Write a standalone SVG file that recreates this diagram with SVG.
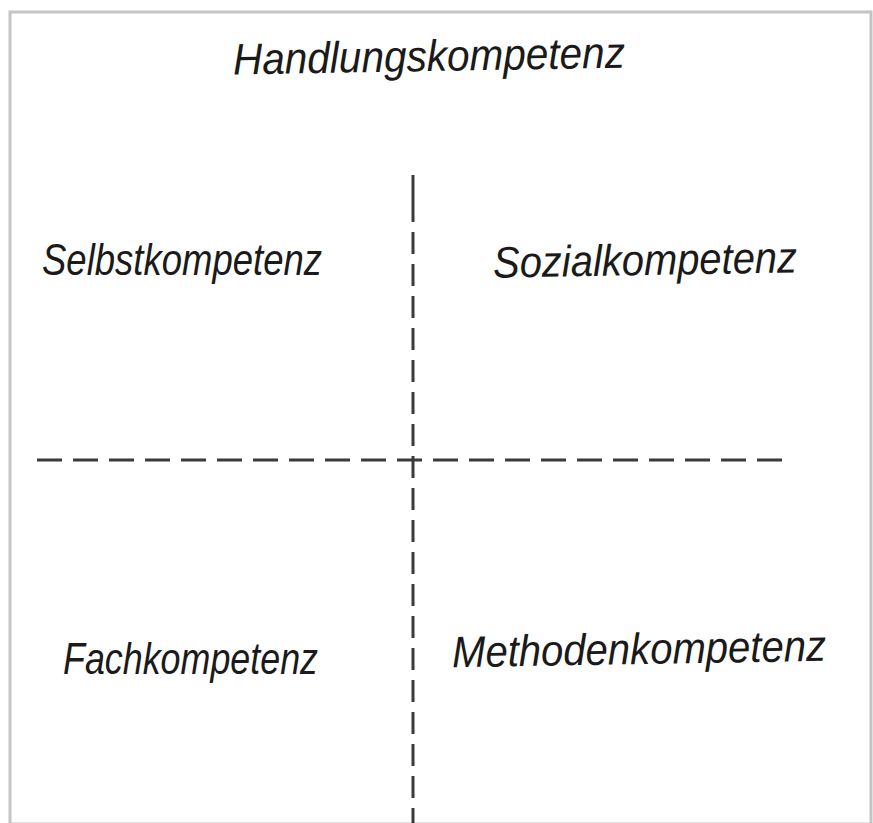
<svg xmlns="http://www.w3.org/2000/svg" width="873" height="823" viewBox="0 0 873 823">
<style>
.lbl{font-family:"Liberation Sans","DejaVu Sans",sans-serif;font-style:italic;font-size:44px;fill:#1a1a1a;}
.dash{stroke:#3a3a3a;stroke-width:3;fill:none;}
</style>
<rect x="0" y="0" width="873" height="823" fill="#ffffff"/>
<rect x="10" y="12" width="861" height="812" fill="none" stroke="#c4c4c4" stroke-width="3"/>
<g id="connectors">
<line class="dash" x1="413" y1="175" x2="413" y2="222"/>
<line class="dash" x1="413" y1="232" x2="413" y2="823" stroke-dasharray="22,10"/>
<line class="dash" x1="37" y1="460" x2="785" y2="460" stroke-dasharray="25,11"/>
</g>
<g id="handlung"><text class="lbl" x="233" y="71" textLength="392" lengthAdjust="spacingAndGlyphs" transform="rotate(-1 430 60)">Handlungskompetenz</text></g>
<g id="selbst"><text class="lbl" x="42" y="275" textLength="280" lengthAdjust="spacingAndGlyphs">Selbstkompetenz</text></g>
<g id="sozial"><text class="lbl" x="493" y="275" textLength="304" lengthAdjust="spacingAndGlyphs" transform="rotate(-1 645 260)">Sozialkompetenz</text></g>
<g id="fach"><text class="lbl" x="63" y="674" textLength="255" lengthAdjust="spacingAndGlyphs">Fachkompetenz</text></g>
<g id="methoden"><text class="lbl" x="452" y="664" textLength="374" lengthAdjust="spacingAndGlyphs" transform="rotate(-1 640 650)">Methodenkompetenz</text></g>
</svg>
